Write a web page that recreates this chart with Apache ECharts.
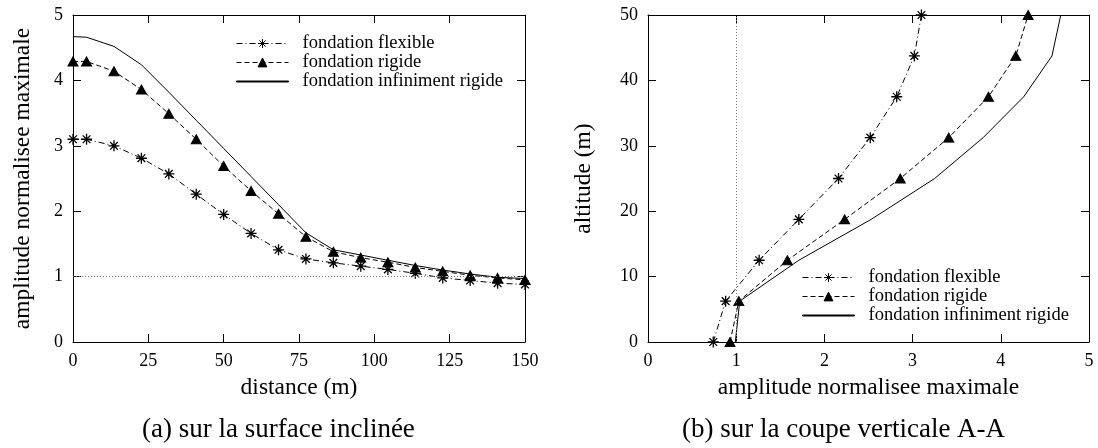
<!DOCTYPE html>
<html>
<head>
<meta charset="utf-8">
<script src="https://cdn.jsdelivr.net/npm/echarts@6/dist/echarts.min.js"></script>
<style>
html,body{margin:0;padding:0;background:#fff;}
#chart{width:1098px;height:448px;}
</style>
</head>
<body>
<div id="chart"></div>
<script>
// ---- data ----
const seriesNames = ['fondation flexible', 'fondation rigide', 'fondation infiniment rigide'];

// (a) surface inclinee
const distances = [0, 4.5, 13.6, 22.7, 31.8, 40.9, 50, 59.1, 68.2, 77.3, 86.4, 95.5, 104.5, 113.6, 122.7, 131.8, 140.9, 150];
const surfFlexible = [3.10, 3.10, 3.00, 2.81, 2.57, 2.26, 1.95, 1.66, 1.41, 1.27, 1.21, 1.16, 1.11, 1.05, 0.98, 0.94, 0.90, 0.88];
const surfRigid = [4.29, 4.29, 4.14, 3.86, 3.49, 3.10, 2.69, 2.31, 1.96, 1.61, 1.38, 1.29, 1.22, 1.14, 1.08, 1.02, 0.98, 0.95];
const surfInfRigid = [4.67, 4.66, 4.52, 4.24, 3.82, 3.39, 2.96, 2.53, 2.10, 1.67, 1.41, 1.33, 1.25, 1.17, 1.10, 1.04, 0.99, 0.97];

// (b) coupe verticale A-A
const altitudes = [0, 6.25, 12.5, 18.75, 25, 31.25, 37.5, 43.75, 50];
const vertFlexible = [0.74, 0.88, 1.26, 1.71, 2.16, 2.52, 2.82, 3.02, 3.10];
const vertRigid = [0.93, 1.03, 1.58, 2.23, 2.86, 3.41, 3.86, 4.17, 4.31];
const vertInfRigid = [0.99, 1.04, 1.71, 2.53, 3.25, 3.80, 4.26, 4.58, 4.68];

const refLevel = 1;

const xTitleA = 'distance (m)';
const yTitleA = 'amplitude normalisee maximale';
const xTitleB = 'amplitude normalisee maximale';
const yTitleB = 'altitude (m)';
const captionA = '(a) sur la surface inclinée';
const captionB = '(b) sur la coupe verticale A-A';

// ---- styling ----
const SERIF = '"Liberation Serif", "Times New Roman", serif';
const ASTERISK = 'path://M0 5L10 5M5 0L5 10M1.5 1.5L8.5 8.5M8.5 1.5L1.5 8.5';
const LINE_ICON = 'path://M0 0H52V1H0Z';

const chart = echarts.init(document.getElementById('chart'), null, {renderer: 'canvas'});

function mainX(gridIndex, min, max, interval, name, nameGap) {
  return {
    type: 'value', gridIndex, min, max, interval, position: 'bottom',
    name, nameLocation: 'middle', nameGap,
    nameTextStyle: {fontFamily: SERIF, fontSize: 23.5, color: '#000'},
    axisLine: {show: true, onZero: false, lineStyle: {color: '#000', width: 1}},
    axisTick: {show: true, inside: true, length: 8, lineStyle: {color: '#000', width: 1}},
    axisLabel: {show: true, margin: 10, fontFamily: SERIF, fontSize: 18, color: '#000'},
    splitLine: {show: false}
  };
}
function sideX(gridIndex, min, max, interval) {
  return {
    type: 'value', gridIndex, min, max, interval, position: 'top',
    axisLine: {show: true, onZero: false, lineStyle: {color: '#000', width: 1}},
    axisTick: {show: true, inside: true, length: 8, lineStyle: {color: '#000', width: 1}},
    axisLabel: {show: false},
    splitLine: {show: false}
  };
}
function mainY(gridIndex, min, max, interval, name, nameGap) {
  return {
    type: 'value', gridIndex, min, max, interval, position: 'left',
    name, nameLocation: 'middle', nameGap, nameRotate: 90,
    nameTextStyle: {fontFamily: SERIF, fontSize: 23.5, color: '#000'},
    axisLine: {show: true, onZero: false, lineStyle: {color: '#000', width: 1}},
    axisTick: {show: true, inside: true, length: 8, lineStyle: {color: '#000', width: 1}},
    axisLabel: {show: true, margin: 10, fontFamily: SERIF, fontSize: 18, color: '#000'},
    splitLine: {show: false}
  };
}
function sideY(gridIndex, min, max, interval) {
  return {
    type: 'value', gridIndex, min, max, interval, position: 'right',
    axisLine: {show: true, onZero: false, lineStyle: {color: '#000', width: 1}},
    axisTick: {show: true, inside: true, length: 8, lineStyle: {color: '#000', width: 1}},
    axisLabel: {show: false},
    splitLine: {show: false}
  };
}

function pairs(xs, ys) { return xs.map((x, i) => [x, ys[i]]); }

const styles = [
  {symbol: ASTERISK, symbolSize: 11, dash: [6, 3, 1, 3], bw: 1.3},
  {symbol: 'triangle', symbolSize: [10, 9], dash: [5, 3], bw: 1},
  {symbol: 'none', symbolSize: 0, dash: 'solid', bw: 1}
];

function makeSeries(name, data, axisIdx, st, markLine) {
  const s = {
    name, type: 'line', data,
    xAxisIndex: axisIdx, yAxisIndex: axisIdx,
    symbol: st.symbol, symbolSize: st.symbolSize,
    showSymbol: st.symbol !== 'none',
    clip: false,
    lineStyle: {color: '#000', width: 1, type: st.dash},
    itemStyle: {color: '#000', borderColor: '#000', borderWidth: st.bw},
    emphasis: {disabled: true},
    animation: false,
    z: 3
  };
  if (markLine) s.markLine = markLine;
  return s;
}

const refLineStyle = {color: '#777', width: 1, type: [1, 2]};
const markA = {silent: true, symbol: ['none', 'none'], label: {show: false}, lineStyle: refLineStyle, data: [{yAxis: refLevel}], animation: false};
const markB = {silent: true, symbol: ['none', 'none'], label: {show: false}, lineStyle: refLineStyle, data: [{xAxis: refLevel}], animation: false};

const seriesA = [surfFlexible, surfRigid, surfInfRigid];
const seriesB = [vertFlexible, vertRigid, vertInfRigid];

const series = [];
seriesNames.forEach((n, i) => {
  series.push(makeSeries(n, pairs(distances, seriesA[i]), 0, styles[i], i === 2 ? markA : null));
});
seriesNames.forEach((n, i) => {
  series.push(makeSeries(n, seriesB[i].map((v, k) => [v, altitudes[k]]), 2, styles[i], i === 2 ? markB : null));
});

function legendData() {
  return [
    {name: seriesNames[0]},
    {name: seriesNames[1]},
    {name: seriesNames[2], icon: LINE_ICON}
  ];
}
function makeLegend(left, top, lh) {
  return {
    left, top, orient: 'vertical', padding: 0, itemGap: 0,
    itemWidth: 52, itemHeight: 11, selectedMode: false,
    data: legendData(),
    itemStyle: {borderColor: '#000', borderWidth: 1},
    lineStyle: {width: 1, color: '#000'},
    textStyle: {fontFamily: SERIF, fontSize: 18.5, color: '#000', lineHeight: lh, padding: [0, 0, 0, 9]}
  };
}

const option = {
  backgroundColor: '#fff',
  animation: false,
  grid: [
    {left: 73, right: 573, top: 15, bottom: 106},
    {left: 648, right: 9, top: 15, bottom: 106}
  ],
  xAxis: [
    mainX(0, 0, 150, 25, xTitleA, 34),
    sideX(0, 0, 150, 25),
    mainX(1, 0, 5, 1, xTitleB, 34),
    sideX(1, 0, 5, 1)
  ],
  yAxis: [
    mainY(0, 0, 5, 1, yTitleA, 38),
    sideY(0, 0, 5, 1),
    mainY(1, 0, 50, 10, yTitleB, 52),
    sideY(1, 0, 50, 10)
  ],
  legend: [makeLegend(236, 34, 18.3), makeLegend(802, 268, 18.8)],
  series,
  graphic: [
    {type: 'text', left: 142, top: 416, style: {text: captionA, fontFamily: SERIF, fontSize: 27, fill: '#000'}},
    {type: 'text', left: 682, top: 416, style: {text: captionB, fontFamily: SERIF, fontSize: 27, fill: '#000'}}
  ]
};
chart.setOption(option);
</script>
</body>
</html>
